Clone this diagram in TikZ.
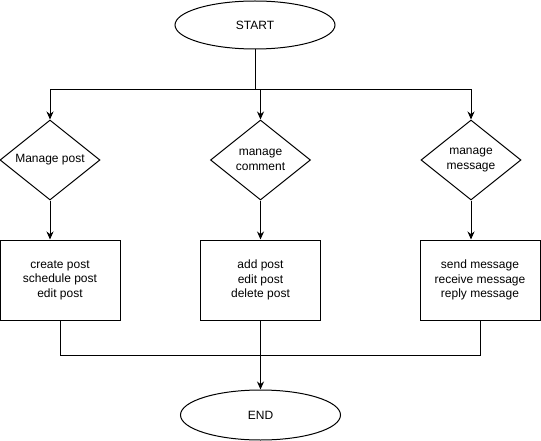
\documentclass[tikz,border=0pt]{standalone}
\usepackage{fontspec}
\setmainfont{Liberation Sans}
\usetikzlibrary{shapes.geometric,arrows.meta}
\begin{document}
\begin{tikzpicture}[x=1pt, y=-1pt, >={Stealth[length=8pt,width=7pt]}, line width=1pt,
    font=\fontsize{12}{14.5}\selectfont,
    term/.style={draw, ellipse, minimum width=160pt, minimum height=48pt, inner sep=0pt},
    choice/.style={draw, diamond, aspect=1.25, minimum width=100pt, minimum height=80pt, inner sep=0pt, align=center},
    task/.style={draw, rectangle, minimum width=120pt, minimum height=80pt, inner sep=0pt, align=center}]
\useasboundingbox (0,0) rectangle (541,441);
\node[term] (start) at (255,25) {START};
\node[choice] (d1) at (50,160) {Manage post};
\node[choice] (d2) at (260.5,160) {manage\\comment};
\node[choice] (d3) at (471,160) {manage\\message};
\node[task] (b1) at (60,280) {create post\\schedule post\\edit post};
\node[task] (b2) at (260.5,280) {add post\\edit post\\delete post};
\node[task] (b3) at (480,280) {send message\\receive message\\reply message};
\node[term, minimum height=50pt] (end) at (260.5,415) {END};
\coordinate (split) at (255,90);
\coordinate (join) at (260.5,355);
\draw (start.south) -- (split);
\foreach \n in {1,2,3}
{
    \draw[->] (split) -| (d\n.north);
    \draw[->] (d\n.south) -- (d\n.south |- b\n.north);
}
\draw (b1.south) |- (join);
\draw (b3.south) |- (join);
\draw[->] (b2.south) -- (end.north);
\end{tikzpicture}
\end{document}
